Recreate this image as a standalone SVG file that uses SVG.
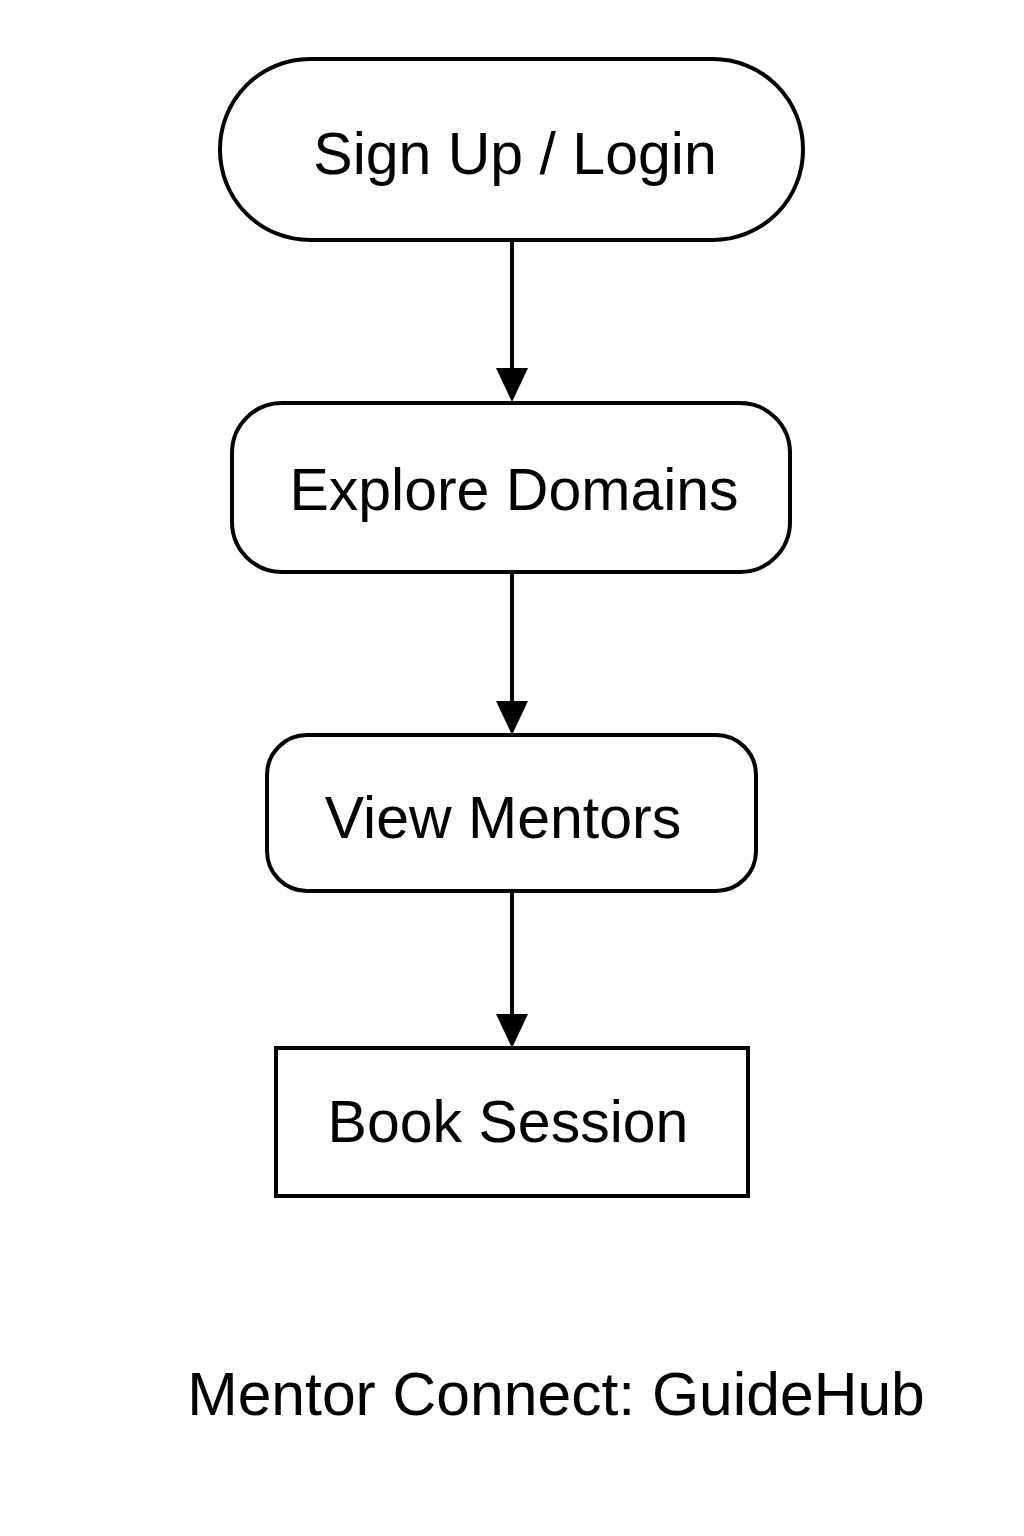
<svg xmlns="http://www.w3.org/2000/svg" width="1024" height="1536" viewBox="0 0 1024 1536">
<style>
.box{fill:#fff;stroke:#000;stroke-width:4}
.lbl{font-family:"Liberation Sans",Arial,sans-serif;font-size:59px;fill:#000;text-anchor:middle}
.ttl{font-family:"Liberation Sans",Arial,sans-serif;font-size:60.6px;fill:#000;text-anchor:middle}
.edge{stroke:#000;stroke-width:4;fill:none}
.head{fill:#000}
</style>
<rect width="1024" height="1536" fill="#fff"/>
<g id="connectors">
<line class="edge" x1="512" y1="240" x2="512" y2="375"/>
<polygon class="head" points="496,368 528,368 512,402"/>
<line class="edge" x1="512" y1="572" x2="512" y2="708"/>
<polygon class="head" points="496,701 528,701 512,735"/>
<line class="edge" x1="512" y1="891" x2="512" y2="1021"/>
<polygon class="head" points="496,1014 528,1014 512,1048"/>
</g>
<g id="signup">
<rect class="box" x="220" y="59" width="583" height="181" rx="90" ry="90"/>
<text class="lbl" x="515" y="174">Sign Up / Login</text>
</g>
<g id="explore">
<rect class="box" x="232" y="403" width="558" height="169" rx="50" ry="50"/>
<text class="lbl" x="514" y="510">Explore Domains</text>
</g>
<g id="mentors">
<rect class="box" x="267" y="735" width="489" height="156" rx="40" ry="40"/>
<text class="lbl" x="503" y="838">View Mentors</text>
</g>
<g id="book">
<rect class="box" x="276" y="1048" width="472" height="148"/>
<text class="lbl" x="508" y="1142">Book Session</text>
</g>
<g id="title">
<text class="ttl" x="556" y="1415">Mentor Connect: GuideHub</text>
</g>
</svg>
